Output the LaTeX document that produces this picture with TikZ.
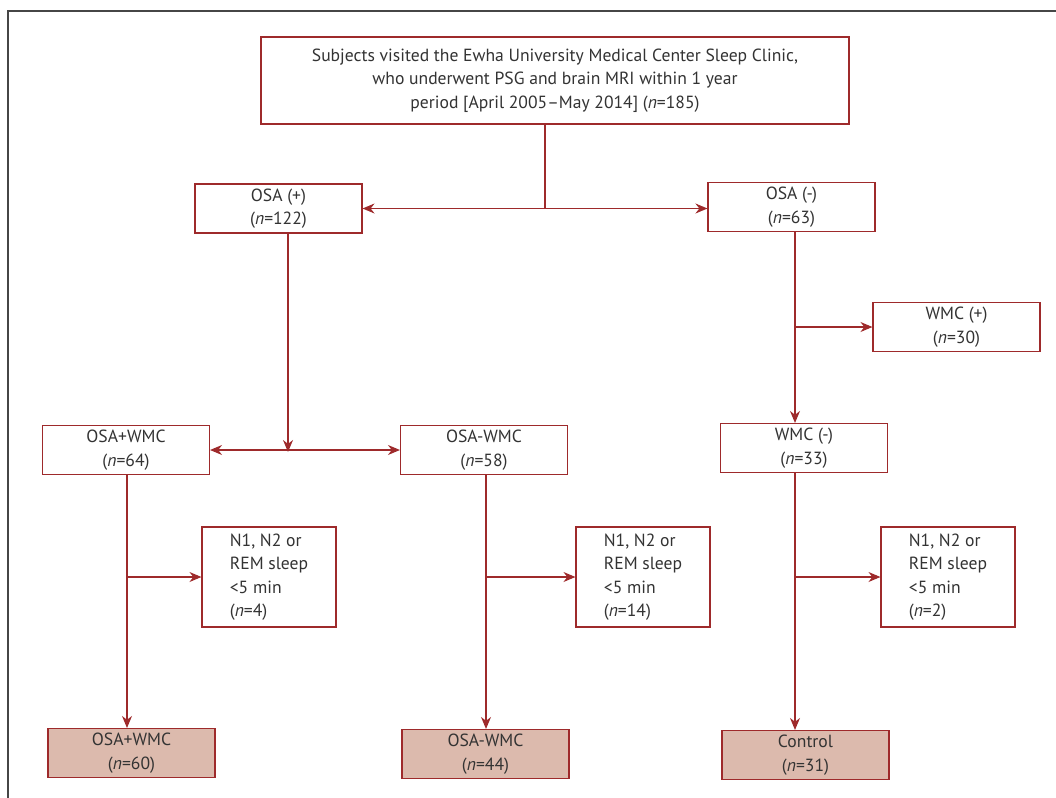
\documentclass[tikz,border=0pt]{standalone}
\usepackage{fontspec}
\setmainfont{PT Sans}
\usetikzlibrary{arrows.meta, positioning, calc}
\definecolor{boxred}{RGB}{158, 42, 43}
\definecolor{resfill}{RGB}{220, 186, 173}
\definecolor{framegray}{RGB}{70, 70, 70}

\begin{document}
\begin{tikzpicture}[
  x=0.5pt, y=-0.5pt,
  every node/.style={font=\fontsize{8.8}{11.75}\selectfont, text=black!80},
  box/.style={
    rectangle, draw=boxred, line width=0.55pt, fill=white,
    minimum width=83.5pt, minimum height=24.5pt,
    inner sep=1pt, align=center
  },
  nbox/.style={box, minimum width=67pt, minimum height=50pt, align=left},
  resbox/.style={box, fill=resfill},
  arr/.style={-{Stealth[length=6pt, width=5pt]}, line width=0.55pt, draw=boxred},
  darr/.style={arr, {Stealth[length=6pt, width=5pt]}-{Stealth[length=6pt, width=5pt]}},
  line/.style={line width=0.55pt, draw=boxred},
]
\useasboundingbox (0,0) rectangle (1056,798);

%% Frame
\draw[framegray, line width=1pt] (8,798) -- (8,11) -- (1056,11);

%% Boxes
\node[box, minimum width=294pt, minimum height=43.5pt] (top) at (555,80.5)
  {Subjects visited the Ewha University Medical Center Sleep Clinic,\\
   who underwent PSG and brain MRI within 1 year\\
   period [April 2005--May 2014] (\textit{n}=185)};
\node[box] (osap) at (278.5,208.5) {OSA (+)\\(\textit{n}=122)};
\node[box] (osam) at (791.5,207)   {OSA (-)\\(\textit{n}=63)};
\node[box] (wp)   at (956.5,327)   {WMC (+)\\(\textit{n}=30)};
\node[box] (owp)  at (126,450)     {OSA+WMC\\(\textit{n}=64)};
\node[box] (owm)  at (484,450)     {OSA-WMC\\(\textit{n}=58)};
\node[box] (wm)   at (804,448)     {WMC (-)\\(\textit{n}=33)};

\node[nbox] (np) at (269,577) {N1, N2 or\\REM sleep\\<5 min\\(\textit{n}=4)};
\node[nbox] (nm) at (643,577) {N1, N2 or\\REM sleep\\<5 min\\(\textit{n}=14)};
\node[nbox] (nc) at (948,577) {N1, N2 or\\REM sleep\\<5 min\\(\textit{n}=2)};

\node[resbox] (rp) at (131.5,753) {OSA+WMC\\(\textit{n}=60)};
\node[resbox] (rm) at (485.5,754) {OSA-WMC\\(\textit{n}=44)};
\node[resbox] (rc) at (805.5,755) {Control\\(\textit{n}=31)};

%% Columns
\coordinate (c0) at (545,0);
\coordinate (ca) at (288,452);
\coordinate (c1) at (127,0);
\coordinate (c2) at (486,0);
\coordinate (c3) at (795,0);

%% Connectors
\draw[line] (top.south -| c0) -- (c0 |- osap.east);
\draw[darr] (osap.east) -- (osap.east -| osam.west);

\draw[arr] (osap.south -| ca) -- (ca);
\draw[darr] (owp.east) -- (owm.west);

\draw[arr] (osam.south -| c3) -- (wm.north -| c3);
\draw[arr] (wp.west -| c3) -- (wp.west);

\foreach \u/\n/\r/\c in {owp/np/rp/c1, owm/nm/rm/c2, wm/nc/rc/c3} {
  \draw[arr] (\u.south -| \c) -- (\r.north -| \c);
  \draw[arr] (\n.west -| \c) -- (\n.west);
}

\end{tikzpicture}
\end{document}
